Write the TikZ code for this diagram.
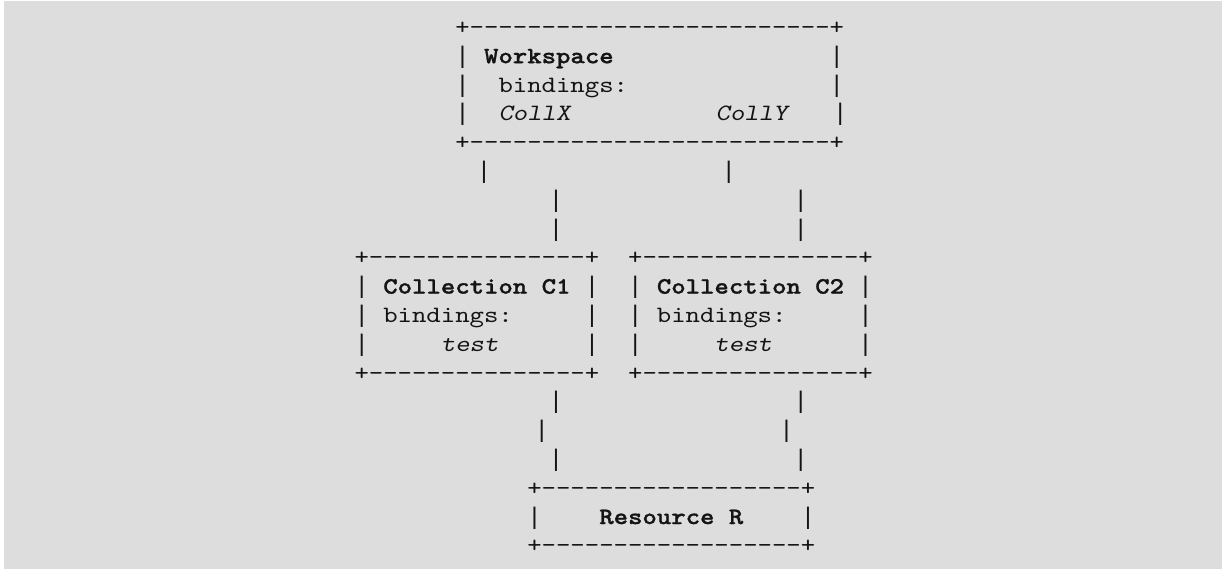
\documentclass[tikz,border=0pt]{standalone}
\usepackage{fontspec}
\setmonofont{lmmono10-regular.otf}[
  BoldFont=lmmonolt10-bold.otf,
  BoldFeatures={FakeBold=1.2},
  ItalicFont=lmmonoslant10-regular.otf,
  FakeStretch=1.172]
\newfontfamily\barfont{Liberation Mono}
\definecolor{bg}{RGB}{221,221,221}
\definecolor{ink}{RGB}{20,20,20}
\tikzset{
  asciibox/.style={inner sep=0pt, outer sep=0pt, anchor=base west,
    font=\ttfamily\fontsize{17.55}{21.6}\selectfont, text=ink},
  barchar/.style={inner sep=0pt, outer sep=0pt, anchor=base west,
    font=\barfont\fontsize{18}{21.6}\selectfont, text=ink}
}
\newcommand{\boxlines}[1]{\begin{tabular}[t]{@{}l@{}}#1\end{tabular}}
% the vertical bar character (one 10.8pt cell)
\newcommand{\vb}{{\barfont\fontsize{18}{21.6}\selectfont|}}
\begin{document}
\begin{tikzpicture}[x=0.75pt,y=-0.75pt]
\useasboundingbox (0,0) rectangle (1222,569);
\fill[white] (0,0) rectangle (1222,569);
\fill[bg] (4,1) rectangle (1222,569);

% boxes (ASCII art)
\node[asciibox] (ws) at (455.3,34.4) {\boxlines{%
+-------------------------+\\
\vb~\textbf{Workspace}~~~~~~~~~~~~~~~\vb\\
\vb~~bindings:~~~~~~~~~~~~~~\vb\\
\vb~~\textit{CollX}~~~~~~~~~~\textit{CollY}~~~\vb\\
+-------------------------+}};

\node[asciibox] (c1) at (354.5,264.8) {\boxlines{%
+---------------+\\
\vb~\textbf{Collection~C1}~\vb\\
\vb~bindings:~~~~~\vb\\
\vb~~~~~\textit{test}~~~~~~\vb\\
+---------------+}};

\node[asciibox] (c2) at (628.1,264.8) {\boxlines{%
+---------------+\\
\vb~\textbf{Collection~C2}~\vb\\
\vb~bindings:~~~~~\vb\\
\vb~~~~~\textit{test}~~~~~~\vb\\
+---------------+}};

\node[asciibox] (res) at (527.3,495.2) {\boxlines{%
+------------------+\\
\vb~~~~\textbf{Resource~R}~~~~\vb\\
+------------------+}};

% connectors: stacked bar characters, Workspace -> collections
\node[barchar] (wsL1) at (476.9,178.4) {|};
\node[barchar] (wsL2) at (548.9,207.2) {|};
\node[barchar] (wsL3) at (548.9,236.0) {|};
\node[barchar] (wsR1) at (721.7,178.4) {|};
\node[barchar] (wsR2) at (793.7,207.2) {|};
\node[barchar] (wsR3) at (793.7,236.0) {|};
% collections -> Resource R
\node[barchar] (c1B1) at (548.9,408.8) {|};
\node[barchar] (c1B2) at (534.5,437.6) {|};
\node[barchar] (c1B3) at (548.9,466.4) {|};
\node[barchar] (c2B1) at (793.7,408.8) {|};
\node[barchar] (c2B2) at (779.3,437.6) {|};
\node[barchar] (c2B3) at (793.7,466.4) {|};
\end{tikzpicture}
\end{document}
